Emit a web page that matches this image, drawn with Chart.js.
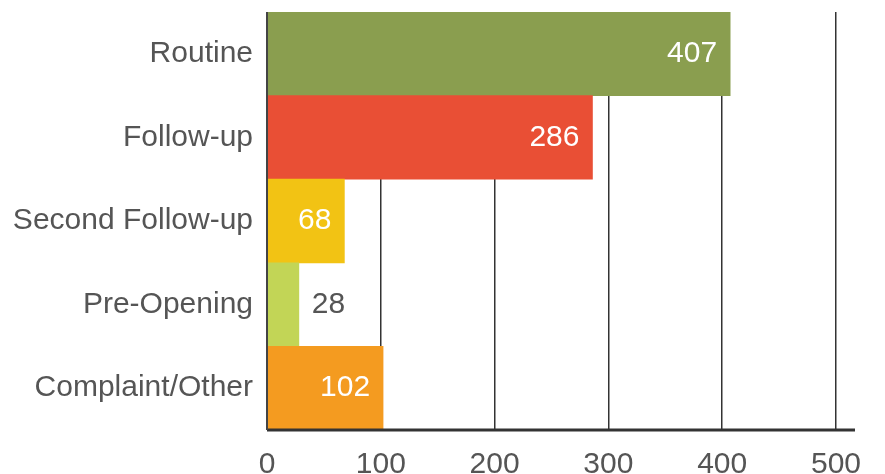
<!DOCTYPE html>
<html lang="en">
<head>
  <meta charset="UTF-8">
  <title>Inspections by type</title>
  <script src="https://cdn.jsdelivr.net/npm/chart.js"></script>
  <style>
    html, body { margin: 0; padding: 0; background: #fff; }
    .chart-container { width: 885px; height: 474px; }
  </style>
</head>
<body>
<div class="chart-container"><canvas id="typeChart"></canvas></div>
<script>
  const categories = ['Routine', 'Follow-up', 'Second Follow-up', 'Pre-Opening', 'Complaint/Other'];
  const counts = [407, 286, 68, 28, 102];
  const xTicks = [0, 100, 200, 300, 400, 500];

  const barColors = ['#8A9E4F', '#E94F35', '#F2C314', '#C2D556', '#F49B20'];
  const FONT = '"Liberation Sans", Arial, sans-serif';
  const SIZE = 30;

  // labels de valeur sur les barres + ligne de base
  const valueLabels = {
    id: 'valueLabels',
    afterDatasetsDraw(chart) {
      const ctx = chart.ctx;
      const meta = chart.getDatasetMeta(0);
      ctx.save();
      ctx.font = SIZE + 'px ' + FONT;
      ctx.textBaseline = 'middle';
      meta.data.forEach((bar, i) => {
        const txt = String(counts[i]);
        const w = ctx.measureText(txt).width;
        const barW = bar.x - bar.base;
        if (barW > w + 20) {
          ctx.fillStyle = '#fff';
          ctx.textAlign = 'right';
          ctx.fillText(txt, bar.x - 13, bar.y);
        } else {
          ctx.fillStyle = '#555';
          ctx.textAlign = 'left';
          ctx.fillText(txt, bar.x + 13, bar.y);
        }
      });
      const area = chart.chartArea;
      ctx.strokeStyle = '#333';
      ctx.lineWidth = 3;
      ctx.beginPath();
      ctx.moveTo(area.left, area.bottom);
      ctx.lineTo(area.right + 19, area.bottom);
      ctx.stroke();
      ctx.lineWidth = 2;
      ctx.strokeStyle = '#444';
      ctx.beginPath();
      ctx.moveTo(area.left, area.top);
      ctx.lineTo(area.left, area.bottom);
      ctx.stroke();
      ctx.restore();
    }
  };

  new Chart(document.getElementById('typeChart'), {
    type: 'bar',
    data: {
      labels: categories,
      datasets: [{
        data: counts,
        backgroundColor: barColors,
        borderWidth: 0,
        barPercentage: 1,
        categoryPercentage: 1
      }]
    },
    options: {
      indexAxis: 'y',
      responsive: true,
      maintainAspectRatio: false,
      animation: false,
      layout: { padding: { top: 12, right: 49, left: 0, bottom: 0 } },
      plugins: { legend: { display: false }, tooltip: { enabled: false } },
      scales: {
        x: {
          min: 0,
          max: 500,
          afterBuildTicks: axis => { axis.ticks = xTicks.map(v => ({ value: v })); },
          afterFit: axis => { axis.height = 44; },
          grid: { color: '#333', lineWidth: 1.5, drawTicks: false },
          border: { display: false },
          ticks: { color: '#555', font: { family: FONT, size: SIZE }, padding: 17, maxRotation: 0 }
        },
        y: {
          afterFit: axis => { axis.width = 267; axis.paddingTop = 0; axis.paddingBottom = 0; },
          grid: { display: false, drawTicks: false },
          border: { display: false },
          ticks: { color: '#555', font: { family: FONT, size: SIZE }, padding: 14 }
        }
      }
    },
    plugins: [valueLabels]
  });
</script>
</body>
</html>
